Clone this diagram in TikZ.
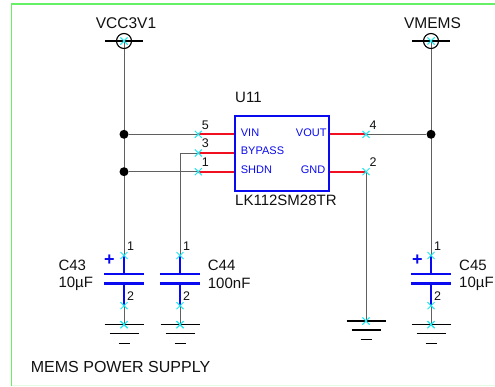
\documentclass[tikz,border=0pt]{standalone}
\usepackage{fontspec}
\setmainfont{Liberation Sans}
\usetikzlibrary{positioning}
\usetikzlibrary{backgrounds}
\usetikzlibrary{shapes.misc}
\definecolor{sheetgreen}{HTML}{66F066}
\definecolor{palegreen}{HTML}{E4FBE4}
\definecolor{partblue}{HTML}{0A0AF0}
\definecolor{pinred}{HTML}{F01020}
\definecolor{wiregray}{HTML}{606060}
\definecolor{textgray}{HTML}{111111}
\definecolor{pincyan}{HTML}{20E8F0}
\tikzset{
  pinx/.style={cross out, draw=pincyan, line width=1pt, minimum size=7pt, inner sep=0pt, outer sep=0pt},
  wire/.style={draw=wiregray, line width=1pt},
  lead/.style={draw=pinred, line width=2.2pt},
  capline/.style={draw=partblue, line width=2.4pt},
  railbar/.style={draw=black, line width=1.1pt},
  junction/.style={circle, fill=black, inner sep=0pt, minimum size=9pt},
  reftext/.style={text=textgray, inner sep=0pt, font=\fontsize{15}{18}\selectfont},
  pinname/.style={text=partblue, inner sep=0pt, font=\fontsize{11}{13}\selectfont},
  pinnum/.style={text=textgray, inner sep=0pt, font=\fontsize{12.5}{14}\selectfont},
  plusmark/.style={text=partblue, inner sep=0pt, font=\bfseries\fontsize{18}{18}\selectfont},
}
\begin{document}
\begin{tikzpicture}[x=1pt, y=-1pt, on grid]
    \useasboundingbox (0,0) rectangle (495,386);
    \draw[palegreen, line width=1pt] (11.5,385.5) -- (495,385.5);
    \draw[sheetgreen, line width=1.2pt] (11.5,386) -- (11.5,4) -- (495,4);

    % the regulator
    \node[draw=partblue, line width=2pt, minimum width=93.5pt, minimum height=74.5pt, inner sep=0pt] (u11) at (282.2,153.3) {};
    \node[reftext, anchor=west] (u11ref) at (235,97) {U11};
    \node[reftext, anchor=west] (u11val) at (235,200) {LK112SM28TR};

    \node[pinx] (pin5) at (198.3,134.3) {};
    \node[pinx, below=18.7pt of pin5] (pin3) {};
    \node[pinx, below=18.7pt of pin3] (pin1) {};
    \node[pinx] (pin4) at (366,134.3) {};
    \node[pinx, below=37.4pt of pin4] (pin2) {};

    \node[pinname, anchor=west] (nvin) at (240.7,132.5) {VIN};
    \node[pinname, anchor=west] (nbypass) at (240.7,151) {BYPASS};
    \node[pinname, anchor=west] (nshdn) at (240.7,170) {SHDN};
    \node[pinname, anchor=east] (nvout) at (326.7,132.5) {VOUT};
    \node[pinname, anchor=east] (ngnd) at (325.5,170) {GND};

    \node[pinnum, above right=9.5pt and 7pt of pin5] (num5) {5};
    \node[pinnum, above right=9.5pt and 7pt of pin3] (num3) {3};
    \node[pinnum, above right=9.5pt and 7pt of pin1] (num1) {1};
    \node[pinnum, above right=9.5pt and 7pt of pin4] (num4) {4};
    \node[pinnum, above right=9.5pt and 7pt of pin2] (num2) {2};

    % capacitors with their grounds
    \foreach \cref/\cx in {43/124, 44/180, 45/431} {
      \node[pinx] (c\cref a) at (\cx,255.5) {};
      \coordinate[below=18.7pt of c\cref a] (c\cref p);
      \coordinate[below=9.4pt of c\cref p] (c\cref n);
      \node[pinx, below=18.6pt of c\cref n] (c\cref b) {};
      \node[pinx, below=19pt of c\cref b] (g\cref) {};
      \node[pinnum, above right=9pt and 6.5pt of c\cref a] (c\cref one) {1};
      \node[pinnum, above right=9.5pt and 6.5pt of c\cref b] (c\cref two) {2};
    }
    \node[pinx] (g0) at (366,321) {};

    \node[reftext, anchor=west] (c43ref) at (58.3,265) {C43};
    \node[reftext, anchor=west] (c43val) at (58.3,283.5) {10µF};
    \node[reftext, anchor=west] (c44ref) at (207.7,265) {C44};
    \node[reftext, anchor=west] (c44val) at (207.7,283.5) {100nF};
    \node[reftext, anchor=west] (c45ref) at (459,265) {C45};
    \node[reftext, anchor=west] (c45val) at (459,283.5) {10µF};
    \node[plusmark] (c43plus) at (109.3,260.5) {+};
    \node[plusmark] (c45plus) at (417.3,260.5) {+};

    % power flags
    \node[pinx] (vcc) at (124,41) {};
    \node[pinx] (vmems) at (431,41) {};
    \node[reftext, above=18pt of vcc, xshift=2pt, font=\fontsize{15.5}{18}\selectfont] (vccname) {VCC3V1};
    \node[reftext, above=18pt of vmems, xshift=1.5pt, font=\fontsize{15.5}{18}\selectfont] (vmemsname) {VMEMS};
    \node[reftext, anchor=west, font=\fontsize{16}{18}\selectfont] (title) at (30.7,367.3) {MEMS POWER SUPPLY};

    \coordinate (j1) at (vcc |- pin5);
    \coordinate (j2) at (vcc |- pin1);
    \coordinate (j3) at (vmems |- pin4);
    \coordinate (k1) at (c44a |- pin3);
    \node[junction] (dot1) at (j1) {};
    \node[junction] (dot2) at (j2) {};
    \node[junction] (dot3) at (j3) {};

    \begin{scope}[on background layer]
      \draw[wire] (vcc.center) -- (c43a.center);
      \draw[wire] (vmems.center) -- (c45a.center);
      \draw[wire] (dot1) -- (pin5.center);
      \draw[wire] (dot2) -- (pin1.center);
      \draw[wire] (pin4.center) -- (dot3);
      \draw[wire] (pin3.center) -- (k1) -- (c44a.center);
      \draw[wire] (pin2.center) -- (g0.center);
      \draw[lead] (pin5.center) -- (pin5 -| u11.west);
      \draw[lead] (pin3.center) -- (pin3 -| u11.west);
      \draw[lead] (pin1.center) -- (pin1 -| u11.west);
      \draw[lead] (pin4.center) -- (pin4 -| u11.east);
      \draw[lead] (pin2.center) -- (pin2 -| u11.east);
      \foreach \cref in {43, 44, 45} {
        \draw[capline] (c\cref a.center) -- (c\cref p);
        \draw[capline] (c\cref n) -- (c\cref b.center);
        \draw[wire] (c\cref b.center) -- (g\cref.center);
      }
    \end{scope}

    \foreach \cref in {43, 44, 45} {
      \draw[capline] ([xshift=-20pt]c\cref p) -- ([xshift=20pt]c\cref p);
      \draw[capline] ([xshift=-20pt]c\cref n) -- ([xshift=20pt]c\cref n);
    }
    \foreach \gnd in {g43, g44, g45, g0} {
      \draw[railbar] ([xshift=-19.5pt]\gnd.center) -- ([xshift=19.5pt]\gnd.center);
      \draw[railbar] ([xshift=-14.5pt, yshift=-9pt]\gnd.center) -- ([xshift=14.5pt, yshift=-9pt]\gnd.center);
      \draw[railbar] ([xshift=-5.5pt, yshift=-18.5pt]\gnd.center) -- ([xshift=5.5pt, yshift=-18.5pt]\gnd.center);
    }
    \foreach \flag in {vcc, vmems} {
      \draw[railbar] (\flag.center) circle[radius=7.5pt];
      \draw[railbar] ([xshift=-19pt]\flag.center) -- ([xshift=19pt]\flag.center);
    }
    \node[pinx] (vccx) at (vcc) {};
    \node[pinx] (vmemsx) at (vmems) {};
    \node[pinx] (g43x) at (g43) {};
    \node[pinx] (g44x) at (g44) {};
    \node[pinx] (g45x) at (g45) {};
    \node[pinx] (g0x) at (g0) {};
\end{tikzpicture}
\end{document}
